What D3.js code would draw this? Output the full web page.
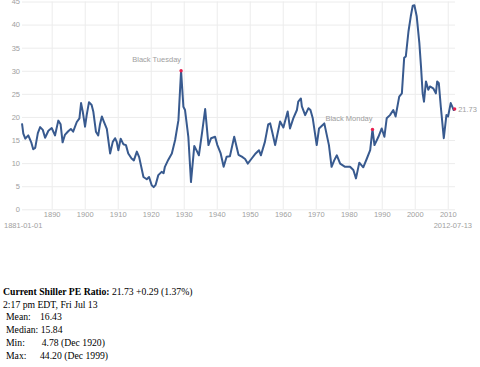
<!DOCTYPE html>
<html>
  <head>
    <meta charset="utf-8">
    <title>Shiller PE Ratio</title>
    <script src="https://d3js.org/d3.v7.min.js"></script>
    <style>
      body { margin: 0; background: #fff; }
      .tick text, .note { font-family: "Liberation Sans", Arial, sans-serif; font-size: 7.5px; fill: #a0a0a0; }
      .info { font-family: "Liberation Serif", "Times New Roman", serif; font-size: 9.7px; fill: #000; white-space: pre; }
    </style>
  </head>
  <body>
    <svg id="chart" width="480" height="367"></svg>
    <script>
      // Shiller PE (decimal year, ratio)
      var years = [1881.0, 1881.4, 1882.0, 1882.9, 1883.8, 1884.4, 1885.0, 1885.8, 1886.5, 1887.3,
        1888.0, 1889.0, 1890.0, 1891.0, 1892.0, 1892.7, 1893.3, 1894.0, 1895.0, 1895.8,
        1896.5, 1897.6, 1898.4, 1898.9, 1899.4, 1900.1, 1900.6, 1901.3, 1902.1, 1902.6,
        1903.4, 1904.1, 1904.6, 1905.2, 1905.8, 1906.7, 1907.7, 1908.5, 1909.2, 1909.7,
        1910.2, 1910.9, 1911.7, 1912.5, 1913.2, 1914.2, 1914.9, 1915.8, 1916.5, 1917.8,
        1918.8, 1919.5, 1920.3, 1920.9, 1921.5, 1922.3, 1923.3, 1923.9, 1924.3, 1925.3,
        1926.4, 1927.4, 1928.4, 1929.2, 1929.9, 1930.4, 1931.4, 1932.2, 1933.2, 1934.0,
        1934.6, 1935.6, 1936.5, 1937.5, 1938.3, 1939.5, 1940.2, 1941.2, 1942.1, 1943.0,
        1944.0, 1945.3, 1946.6, 1947.6, 1948.6, 1949.4, 1950.6, 1951.8, 1952.8, 1953.4,
        1954.6, 1955.6, 1956.2, 1956.8, 1957.7, 1959.2, 1960.2, 1961.5, 1962.2, 1963.2,
        1964.3, 1964.7, 1965.5, 1965.8, 1966.8, 1967.8, 1968.4, 1969.1, 1970.3, 1971.0,
        1972.6, 1974.0, 1974.8, 1975.6, 1976.4, 1977.4, 1978.9, 1980.4, 1981.4, 1982.2,
        1983.2, 1984.4, 1985.5, 1986.5, 1987.2, 1987.8, 1989.0, 1990.0, 1990.8, 1991.5,
        1992.5, 1993.5, 1994.2, 1995.3, 1996.1, 1996.8, 1997.3, 1998.1, 1998.8, 1999.4,
        1999.9, 2000.6, 2001.4, 2001.9, 2002.4, 2002.8, 2003.4, 2004.1, 2004.6, 2005.6,
        2006.4, 2006.8, 2007.3, 2007.9, 2008.8, 2009.6, 2010.1, 2010.9, 2011.4, 2011.8,
        2012.1];
      var pe = [18.6, 16.4, 15.3, 16.0, 14.5, 13.0, 13.3, 16.5, 17.8, 17.2,
        15.5, 17.0, 17.6, 16.0, 19.2, 18.4, 14.5, 16.1, 16.9, 17.4,
        16.8, 18.9, 19.7, 23.0, 21.2, 17.9, 20.4, 23.2, 22.6, 21.2,
        16.8, 16.0, 18.3, 20.1, 19.0, 17.4, 12.1, 14.6, 15.4, 14.6,
        12.8, 15.3, 14.1, 13.9, 12.1, 11.0, 10.6, 12.5, 11.3, 7.0,
        6.5, 7.0, 5.2, 4.8, 5.3, 7.4, 8.1, 7.8, 9.2, 10.7,
        12.1, 15.0, 19.3, 30.0, 22.2, 21.5, 15.7, 5.9, 13.7, 12.6,
        11.7, 16.8, 21.7, 13.9, 15.4, 15.7, 13.9, 12.1, 9.2, 11.4,
        11.5, 15.7, 11.8, 11.4, 10.9, 9.9, 11.0, 12.1, 12.8, 11.7,
        14.6, 18.4, 18.6, 16.8, 13.9, 19.0, 17.7, 21.2, 17.5, 19.7,
        21.5, 23.3, 24.0, 22.3, 20.4, 21.9, 21.5, 19.7, 13.9, 17.5,
        18.6, 13.9, 9.2, 10.6, 11.7, 9.9, 9.2, 9.2, 8.5, 6.7,
        10.1, 9.1, 11.0, 12.8, 17.3, 13.9, 15.7, 17.5, 15.7, 19.7,
        20.4, 21.5, 20.1, 24.4, 25.1, 32.8, 33.1, 38.5, 41.8, 44.1,
        44.2, 41.8, 36.0, 30.9, 25.1, 23.3, 27.7, 25.9, 26.6, 26.2,
        25.1, 27.7, 27.3, 22.2, 15.4, 20.4, 20.1, 23.0, 22.2, 21.5,
        21.73];

      var eventNames = ["Black Tuesday", "Black Monday"];
      var eventYears = [1929.2, 1987.2];

      var xTicks = [1890, 1900, 1910, 1920, 1930, 1940, 1950, 1960, 1970, 1980, 1990, 2000, 2010];
      var yTicks = [0, 5, 10, 15, 20, 25, 30, 35, 40, 45];
      var startLabel = "1881-01-01";
      var endLabel = "2012-07-13";

      var infoLabels = ["Mean:", "Median: 15.84", "Min:", "Max:"];
      var infoValues = ["16.43", "", "4.78 (Dec 1920)", "44.20 (Dec 1999)"];

      var data = years.map(function(d, i) { return { year: d, pe: pe[i] }; });

      var svg = d3.select("#chart");
      var x = d3.scaleLinear().domain([1881, 2012.2]).range([22, 455]);
      var y = d3.scaleLinear().domain([0, 45]).range([209.3, 1.5]);

      // grid
      svg.append("g")
        .attr("transform", "translate(0,209.3)")
        .call(d3.axisBottom(x).tickValues(xTicks).tickFormat(d3.format("d"))
          .tickSize(-207.8).tickPadding(2))
        .call(function(g) {
          g.select(".domain").remove();
          g.selectAll(".tick line").attr("stroke", "#ececec");
        });
      svg.append("g")
        .attr("transform", "translate(22,0)")
        .call(d3.axisLeft(y).tickValues(yTicks).tickSize(-433).tickPadding(2))
        .call(function(g) {
          g.select(".domain").remove();
          g.selectAll(".tick line").attr("stroke", "#ececec");
        });

      svg.append("text").attr("class", "note")
        .attr("x", 4).attr("y", 227.5).text(startLabel);
      svg.append("text").attr("class", "note")
        .attr("x", 472).attr("y", 227.5).attr("text-anchor", "end").text(endLabel);

      var line = d3.line()
        .x(function(d) { return x(d.year); })
        .y(function(d) { return y(d.pe); });

      svg.append("path")
        .datum(data)
        .attr("fill", "none")
        .attr("stroke", "#385a8f")
        .attr("stroke-width", 2)
        .attr("stroke-linejoin", "round")
        .attr("d", line);

      // event markers
      eventNames.forEach(function(name, i) {
        var d = data.find(function(p) { return p.year === eventYears[i]; });
        svg.append("circle")
          .attr("cx", x(d.year)).attr("cy", y(d.pe)).attr("r", 1.7)
          .attr("fill", "#e8204f");
        svg.append("text").attr("class", "note")
          .attr("x", x(d.year)).attr("y", y(d.pe) - 8.5)
          .attr("text-anchor", "end")
          .text(name);
      });

      var last = data[data.length - 1];
      svg.append("circle")
        .attr("cx", x(last.year)).attr("cy", y(last.pe)).attr("r", 1.7)
        .attr("fill", "#e8204f");
      svg.append("text").attr("class", "note")
        .attr("x", x(last.year) + 3.5).attr("y", y(last.pe) + 2.7)
        .text(d3.format(".2f")(last.pe));

      // summary below the chart
      var head = svg.append("text").attr("class", "info").attr("x", 3).attr("y", 295);
      head.append("tspan").attr("font-weight", "bold").text("Current Shiller PE Ratio:");
      head.append("tspan").text(" " + d3.format(".2f")(last.pe) + " +0.29 (1.37%)");
      svg.append("text").attr("class", "info").attr("x", 3).attr("y", 307.5)
        .text("2:17 pm EDT, Fri Jul 13");

      var valueX = [40, 0, 41.7, 40];
      infoLabels.forEach(function(label, i) {
        var yy = 319.5 + i * 13.3;
        svg.append("text").attr("class", "info").attr("x", 6).attr("y", yy).text(label);
        if (infoValues[i]) {
          svg.append("text").attr("class", "info").attr("x", valueX[i]).attr("y", yy).text(infoValues[i]);
        }
      });
    </script>
  </body>
</html>
